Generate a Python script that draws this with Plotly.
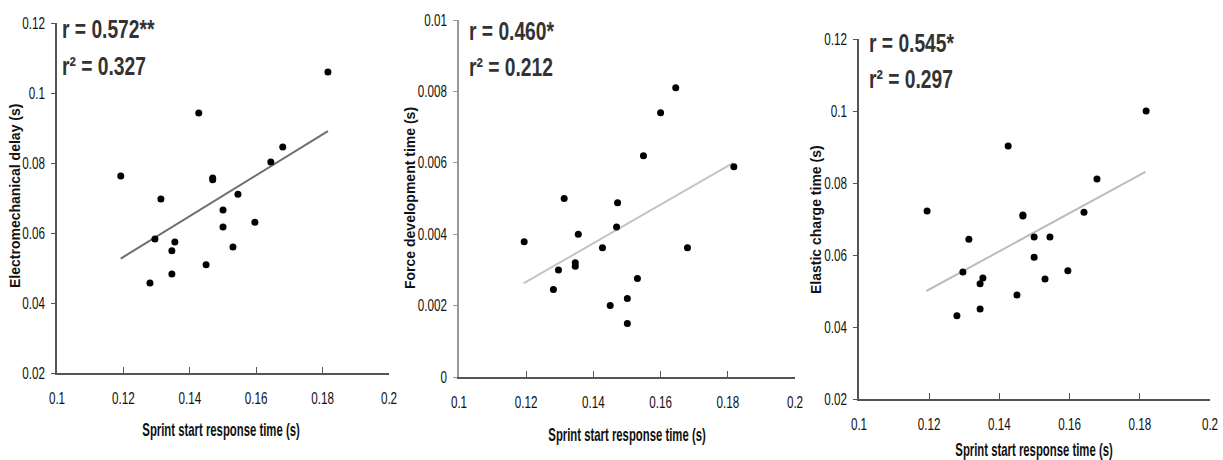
import json
import plotly.graph_objects as go

# ---- data ----
sprint_em = [0.1192, 0.1313, 0.1427, 0.1469, 0.1469, 0.1500, 0.1500, 0.1545, 0.1596, 0.1644,
             0.1680, 0.1816, 0.1295, 0.1355, 0.1346, 0.1346, 0.1280, 0.1449, 0.1530]
emd = [0.0763, 0.0697, 0.0943, 0.0757, 0.0752, 0.0666, 0.0617, 0.0711, 0.0631, 0.0803,
       0.0846, 0.1060, 0.0583, 0.0574, 0.0549, 0.0483, 0.0457, 0.0509, 0.0560]

sprint_fd = [0.1313, 0.1472, 0.1469, 0.1549, 0.1600, 0.1645, 0.1818, 0.1194, 0.1355, 0.1427,
             0.1296, 0.1281, 0.1346, 0.1346, 0.1450, 0.1501, 0.1501, 0.1531, 0.1680]
fdt = [0.0050, 0.00488, 0.0042, 0.0062, 0.0074, 0.0081, 0.00589, 0.00379, 0.0040, 0.00362,
       0.0030, 0.00245, 0.0032, 0.0031, 0.0020, 0.0022, 0.0015, 0.00276, 0.00362]

sprint_ec = [0.1194, 0.1425, 0.1467, 0.1467, 0.1641, 0.1678, 0.1818, 0.1313, 0.1499, 0.1544,
             0.1499, 0.1296, 0.1353, 0.1345, 0.1345, 0.1279, 0.1450, 0.1530, 0.1595]
ect = [0.0722, 0.0903, 0.0711, 0.0708, 0.0719, 0.0811, 0.1000, 0.0644, 0.0650, 0.0650,
       0.0594, 0.0553, 0.0536, 0.0520, 0.0450, 0.0431, 0.0489, 0.0533, 0.0556]

fit_x = [0.1192, 0.1816]
fit_em = [0.0527, 0.0891]
fit_fd = [0.00262, 0.0060]
fit_ec = [0.0500, 0.0831]

x_ticks = [0.1, 0.12, 0.14, 0.16, 0.18, 0.2]
x_ticklabels = ["0.1", "0.12", "0.14", "0.16", "0.18", "0.2"]
y_ticks_em = [0.02, 0.04, 0.06, 0.08, 0.1, 0.12]
y_labels_em = ["0.02", "0.04", "0.06", "0.08", "0.1", "0.12"]
y_ticks_fd = [0, 0.002, 0.004, 0.006, 0.008, 0.01]
y_labels_fd = ["0", "0.002", "0.004", "0.006", "0.008", "0.01"]

x_title = "Sprint start response time (s)"
y_titles = ["Electromechanical delay (s)", "Force development time (s)", "Elastic charge time (s)"]
r_texts = ["r = 0.572**", "r = 0.460*", "r = 0.545*"]
r2_texts = ["r² = 0.327", "r² = 0.212", "r² = 0.297"]

FONT = "Liberation Sans, Arial, sans-serif"
W, H = 1223, 460

fig = go.Figure()
panels = [
    (sprint_em, emd, fit_em, "#6e6e6e", "x", "y"),
    (sprint_fd, fdt, fit_fd, "#c4c4c4", "x2", "y2"),
    (sprint_ec, ect, fit_ec, "#bdbdbd", "x3", "y3"),
]
for xs, ys, fy, lc, xa, ya in panels:
    fig.add_trace(go.Scatter(x=fit_x, y=fy, mode="lines", line=dict(color=lc, width=2),
                             xaxis=xa, yaxis=ya, showlegend=False, hoverinfo="skip"))
    fig.add_trace(go.Scatter(x=xs, y=ys, mode="markers", marker=dict(color="black", size=7),
                             xaxis=xa, yaxis=ya, showlegend=False))

# pixel geometry of the plot areas: (left, right, top, bottom)
boxes = [(57, 389, 23, 373), (459, 795, 20, 377), (859, 1210, 39, 399)]
y_axes_color = ["#555555", "#999999", "#555555"]

tick_font = dict(family=FONT, size=16, color="#111111")
for i, (l, r, t, b) in enumerate(boxes):
    sfx = "" if i == 0 else str(i + 1)
    yt = y_ticks_fd if i == 1 else y_ticks_em
    yl = y_labels_fd if i == 1 else y_labels_em
    fig.update_layout(**{
        "xaxis" + sfx: dict(domain=[l / W, r / W], range=[0.1, 0.2], anchor="y" + sfx,
                            tickvals=x_ticks, ticktext=x_ticklabels, ticks="inside", ticklen=6,
                            tickcolor="#555555", showline=True, linecolor="#555555", linewidth=1.5,
                            showgrid=False, zeroline=False, tickfont=tick_font, fixedrange=True,
                            automargin=False, ticklabelstandoff=10),
        "yaxis" + sfx: dict(domain=[1 - b / H, 1 - t / H], range=[yt[0], yt[-1]], anchor="x" + sfx,
                            tickvals=yt, ticktext=yl, ticks="outside", ticklen=4,
                            tickcolor=y_axes_color[i], showline=True, linecolor=y_axes_color[i],
                            linewidth=1.5, showgrid=False, zeroline=False, tickfont=tick_font,
                            fixedrange=True, automargin=False, ticklabelstandoff=3),
    })

annotations = []
squeeze = {}  # annotation index -> horizontal scale (narrow font look)
xt_pos = [(221, 430), (627, 435), (1034, 450)]
yt_pos = [(15, 196), (410, 198), (816, 219)]
st_x = [60, 467, 867]
st_y = [(29, 66), (31, 67), (43, 79)]
for i in range(3):
    squeeze[len(annotations)] = 0.63
    annotations.append(dict(text="<b>" + x_title + "</b>", x=xt_pos[i][0] / W, y=1 - xt_pos[i][1] / H,
                            xref="paper", yref="paper", showarrow=False, xanchor="center",
                            yanchor="middle", font=dict(family=FONT, size=18, color="#111111")))
    annotations.append(dict(text="<b>" + y_titles[i] + "</b>", x=yt_pos[i][0] / W, y=1 - yt_pos[i][1] / H,
                            xref="paper", yref="paper", showarrow=False, textangle=-90,
                            xanchor="center", yanchor="middle",
                            font=dict(family=FONT, size=14, color="#111111")))
    for txt, yy in ((r_texts[i], st_y[i][0]), (r2_texts[i], st_y[i][1])):
        squeeze[len(annotations)] = 0.74
        annotations.append(dict(text="<b>" + txt + "</b>", x=st_x[i] / W, y=1 - yy / H,
                                xref="paper", yref="paper", showarrow=False, xanchor="left",
                                yanchor="middle", align="left",
                                font=dict(family=FONT, size=26, color="#333333")))

fig.update_layout(width=W, height=H, margin=dict(l=0, r=0, t=0, b=0, pad=0),
                  paper_bgcolor="white", plot_bgcolor="white", annotations=annotations)

post = """
document.body.style.margin='0';document.body.style.overflow='hidden';
var gd=document.getElementById('{plot_id}');
var SQ=%s, TICK=0.73;
function sq(el,s){
  var tr=el.getAttribute('transform')||'';
  if(tr.indexOf('scale(')>=0) return;
  var x=parseFloat(el.getAttribute('x'))||0;
  el.setAttribute('transform',tr+' translate('+x+',0) scale('+s+',1) translate('+(-x)+',0)');
}
function squeezeAll(){
  gd.querySelectorAll('g.xtick text, g.x2tick text, g.x3tick text, g.ytick text, g.y2tick text, g.y3tick text')
    .forEach(function(t){sq(t,TICK);});
  gd.querySelectorAll('g.annotation').forEach(function(g){
    var k=g.getAttribute('data-index');
    if(SQ.hasOwnProperty(k)){var t=g.querySelector('text.annotation-text'); if(t) sq(t,SQ[k]);}
  });
}
squeezeAll();
gd.on('plotly_afterplot',squeezeAll);
setTimeout(squeezeAll,50);
""" % json.dumps({str(k): v for k, v in squeeze.items()})

fig.write_html("out.html", config={"displayModeBar": False}, post_script=post)
